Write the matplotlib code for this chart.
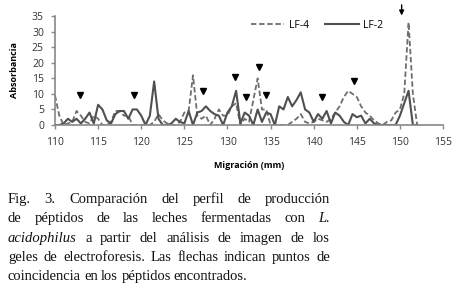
import numpy as np
import matplotlib
matplotlib.use("Agg")
import matplotlib.pyplot as plt

# migration positions (mm) and absorbance
mig = np.arange(110, 152.5, 0.5)
lf4 = [9.5, 3, 0, 0.5, 1, 4.5, 3, 1, 0.5, 3, 2, 0, 0, 1, 4.5, 4.5, 3,
       3, 0, 0, 0, 0, 0, 1, 3.5, 1.5, 0.5, 0, 0, 1, 4, 4.5, 16, 3,
       2, 3, 0, 2, 5, 3, 3, 6, 7, 0, 2, 1, 8, 15, 5, 5, 0, 0, 0, 0,
       0, 1, 2, 3.5, 1, 0.5, 1, 2, 1.5, 1, 2, 4, 6, 9, 11, 10, 9, 6,
       4, 3, 1.5, 0.5, 0, 1, 1.5, 4, 5, 10, 33, 10, 0]
lf2 = [0, 0, 0.5, 2, 1, 2, 0.5, 2, 4, 0.5, 6.5, 5, 1.5, 0.5, 3.5, 4.5,
       4.5, 2, 5, 5, 3, 0, 3, 14, 2, 0, 0, 0.5, 2, 1, 0.5, 4.5, 0, 4,
       4.5, 6, 4.5, 3.5, 3, 0, 4, 6, 11, 0.5, 4, 3, 0, 5, 1, 4, 3.5,
       0, 6, 5, 9, 6, 8, 10.5, 5, 4, 1, 3.5, 2, 4.5, 0.5, 4, 3, 1, 0,
       3.5, 2.5, 3, 0.5, 2, 0.5, 0, 0, 0, 0, 0, 3, 7, 11, 0, 0]

# coincidence markers
mark_x = [112.9, 119.2, 127.2, 130.9, 132.1, 133.7, 134.5, 141.0, 144.7]
mark_y = [9.6, 9.6, 11.0, 15.3, 9.0, 18.7, 9.6, 9.0, 14.0]

# caption words, "*" marks italic
caption = [
    ["Fig.", "3.", "Comparación", "del", "perfil", "de", "producción"],
    ["de", "péptidos", "de", "las", "leches", "fermentadas", "con", "*L."],
    ["*acidophilus", "a", "partir", "del", "análisis", "de", "imagen", "de", "los"],
    ["geles", "de", "electroforesis.", "Las", "flechas", "indican", "puntos", "de"],
    ["coincidencia", "en", "los", "péptidos", "encontrados."],
]

fig = plt.figure(figsize=(4.56, 2.88), dpi=100)
ax = fig.add_axes([0.1206, 0.566, 0.851, 0.378])

ax.plot(mig, lf4, color="#6e6e6e", lw=1.3, ls=(0, (3, 1.5)), label="LF-4")
ax.plot(mig, lf2, color="#505050", lw=1.5, label="LF-2")
ax.plot(mark_x, mark_y, "v", color="black", ms=5, ls="none")
ax.annotate("", xy=(150.2, 34.3), xytext=(150.2, 39.5), annotation_clip=False,
            arrowprops=dict(arrowstyle="-|>", color="black", lw=1, mutation_scale=7))

ax.set_xlim(110, 155)
ax.set_ylim(0, 35)
ax.set_xticks(range(110, 156, 5))
ax.set_yticks(range(0, 36, 5))
for s in ["top", "right"]:
    ax.spines[s].set_visible(False)
for s in ["left", "bottom"]:
    ax.spines[s].set_color("#888888")
    ax.spines[s].set_linewidth(1.2)
ax.tick_params(labelsize=7.5, colors="#888888", labelcolor="#333333", length=3,
               width=1)
ax.tick_params(axis="x", pad=6)
ax.tick_params(axis="y", pad=5)
for lab in ax.get_xticklabels() + ax.get_yticklabels():
    lab.set_family("Open Sans")
ax.set_xlabel("Migración (mm)", fontsize=6.5, fontweight="bold",
              family="Open Sans", labelpad=9)
ax.set_ylabel("Absorbancia", fontsize=6.5, fontweight="bold",
              family="Open Sans", labelpad=9)
leg = ax.legend(loc="upper center", bbox_to_anchor=(0.675, 1.05), ncol=2,
                frameon=False, handlelength=3.2, columnspacing=1.6,
                handletextpad=0.4, prop={"family": "Open Sans", "size": 7.5})

# justified caption
x0, x1 = 8 / 456, 330 / 456
ys = [203, 222, 242, 261, 280]
r = fig.canvas.get_renderer()
for i, words in enumerate(caption):
    y = 1 - ys[i] / 288
    objs = []
    for w in words:
        it = w.startswith("*")
        objs.append(fig.text(0, y, w.lstrip("*"), fontsize=10.5,
                             family="Liberation Serif",
                             style="italic" if it else "normal",
                             va="baseline", color="#111111"))
    widths = [t.get_window_extent(r).width / 456 for t in objs]
    if i < len(caption) - 1:
        gap = (x1 - x0 - sum(widths)) / (len(words) - 1)
    else:
        gap = 3.2 / 456
    x = x0
    for t, w in zip(objs, widths):
        t.set_x(x)
        x += w + gap

fig.savefig("out.png", dpi=100)
